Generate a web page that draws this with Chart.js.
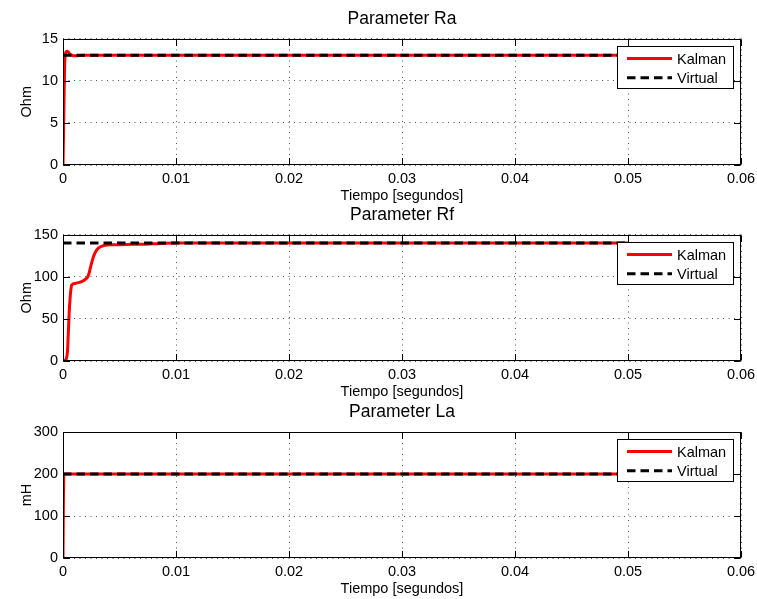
<!DOCTYPE html>
<html>
<head>
<meta charset="utf-8">
<script src="https://cdn.jsdelivr.net/npm/chart.js@4.4.0/dist/chart.umd.min.js"></script>
<style>
  html, body { margin: 0; padding: 0; background: #fff; }
  body { width: 757px; height: 599px; position: relative; overflow: hidden; }
  canvas { position: absolute; left: 0; }
</style>
</head>
<body>
<canvas id="chartRa" width="757" height="210" style="top:0px"></canvas>
<canvas id="chartRf" width="757" height="210" style="top:196px"></canvas>
<canvas id="chartLa" width="757" height="210" style="top:389px"></canvas>
<script>
// --- data ---
const seriesLabels = ['Kalman', 'Virtual'];

const raTime = [0, 0.00005, 0.0001, 0.00015, 0.0002, 0.0003, 0.0004, 0.0005, 0.0006, 0.0008, 0.001, 0.002, 0.05];
const raKalman = [0, 4, 8.5, 12, 13.1, 13.45, 13.5, 13.35, 13.15, 13.0, 12.95, 13.0, 13.0];
const raVirtualTime = [0, 0.05];
const raVirtual = [13, 13];

const rfTime = [0, 0.0002, 0.0003, 0.0004, 0.00047, 0.00055, 0.00062, 0.0007, 0.00077, 0.00106, 0.00165, 0.002, 0.00224, 0.00245, 0.0027, 0.003, 0.0034, 0.0042, 0.0062, 0.008, 0.01, 0.05];
const rfKalman = [0, 1, 3, 12, 33, 58, 73, 85, 90, 92, 94, 97, 101, 112, 124, 132, 136, 137.8, 138.3, 139, 140, 140];
const rfVirtualTime = [0, 0.05];
const rfVirtual = [140, 140];

const laTime = [0, 0.00003, 0.00006, 0.0001, 0.05];
const laKalman = [0, 120, 190, 200, 200];
const laVirtualTime = [0, 0.05];
const laVirtual = [200, 200];

const xTicksMax = 0.06;
const xStep = 0.01;

const FONT = 'Liberation Sans, Arial, Helvetica, sans-serif';
const TICK_LEN = 6.5;

Chart.defaults.font.family = FONT;
Chart.defaults.color = '#000';

function pts(xs, ys) {
    return xs.map((x, i) => ({ x: x, y: ys[i] }));
}

// box round the plot area plus inward tick marks on all four sides
const frameTicks = {
    id: 'frameTicks',
    afterDatasetsDraw(chart) {
        const { ctx, chartArea: a, scales: { x, y } } = chart;
        const L = Math.round(a.left) + 0.5, R = Math.round(a.right) - 0.5;
        const T = Math.round(a.top) + 0.5, B = Math.round(a.bottom) - 0.5;
        ctx.save();
        ctx.strokeStyle = '#000';
        ctx.lineWidth = 1;
        ctx.setLineDash([]);
        ctx.beginPath();
        x.ticks.forEach(t => {
            const px = Math.round(x.getPixelForValue(t.value)) + 0.5;
            ctx.moveTo(px, B); ctx.lineTo(px, B - TICK_LEN);
            ctx.moveTo(px, T); ctx.lineTo(px, T + TICK_LEN);
        });
        y.ticks.forEach(t => {
            const py = Math.round(y.getPixelForValue(t.value)) + 0.5;
            ctx.moveTo(L, py); ctx.lineTo(L + TICK_LEN, py);
            ctx.moveTo(R, py); ctx.lineTo(R - TICK_LEN, py);
        });
        ctx.stroke();
        ctx.strokeRect(L, T, R - L, B - T);
        ctx.restore();
    }
};

// matlab style legend box in the upper right corner
const boxLegend = {
    id: 'boxLegend',
    afterDraw(chart) {
        const { ctx, chartArea: a } = chart;
        const w = 116, h = 42;
        const left = Math.round(a.right - 8 - w), top = Math.round(a.top + 7);
        ctx.save();
        ctx.fillStyle = '#fff';
        ctx.fillRect(left, top, w, h);
        ctx.strokeStyle = '#000';
        ctx.lineWidth = 1;
        ctx.setLineDash([]);
        ctx.strokeRect(left + 0.5, top + 0.5, w, h);
        ctx.font = '14.5px ' + FONT;
        ctx.textBaseline = 'middle';
        ctx.textAlign = 'left';
        chart.data.datasets.forEach((ds, i) => {
            const ly = top + 12.5 + i * 19.3;
            ctx.strokeStyle = ds.borderColor;
            ctx.lineWidth = ds.borderWidth;
            ctx.setLineDash(ds.borderDash || []);
            ctx.beginPath();
            ctx.moveTo(left + 10, ly);
            ctx.lineTo(left + 55, ly);
            ctx.stroke();
            ctx.fillStyle = '#000';
            ctx.fillText(ds.label, left + 60, ly + 1);
        });
        ctx.restore();
    }
};

function makeChart(id, title, yLabel, yMax, yStep, kx, ky, vx, vy, padTop, padBottom) {
    return new Chart(document.getElementById(id).getContext('2d'), {
        type: 'line',
        data: {
            datasets: [{
                label: seriesLabels[0],
                data: pts(kx, ky),
                borderColor: '#ff0000',
                borderWidth: 3,
                pointRadius: 0,
                cubicInterpolationMode: 'monotone',
                order: 1
            }, {
                label: seriesLabels[1],
                data: pts(vx, vy),
                borderColor: '#000000',
                borderWidth: 3,
                borderDash: [8.5, 5],
                pointRadius: 0,
                order: 0
            }]
        },
        options: {
            responsive: false,
            animation: false,
            devicePixelRatio: 1,
            layout: { padding: { left: 0, right: 16, top: padTop, bottom: padBottom } },
            plugins: {
                legend: { display: false },
                tooltip: { enabled: false },
                title: {
                    display: true,
                    text: title,
                    fullSize: false,
                    color: '#000',
                    font: { size: 17.5, weight: 'normal', family: FONT },
                    padding: { top: 8.5, bottom: 9 }
                }
            },
            scales: {
                x: {
                    type: 'linear',
                    min: 0,
                    max: xTicksMax,
                    ticks: {
                        stepSize: xStep,
                        padding: 5,
                        maxRotation: 0,
                        font: { size: 14.5 },
                        callback: v => String(+v.toFixed(2))
                    },
                    grid: { color: '#555', lineWidth: 1, drawTicks: false },
                    border: { display: false, dash: [1, 4.5] },
                    title: {
                        display: true,
                        text: 'Tiempo [segundos]',
                        font: { size: 14.5 },
                        padding: { top: 0, bottom: 0 }
                    },
                    afterFit: s => { s.height = 40; s.paddingLeft = 0; s.paddingRight = 0; }
                },
                y: {
                    min: 0,
                    max: yMax,
                    ticks: { stepSize: yStep, padding: 5, font: { size: 14.5 } },
                    grid: { color: '#555', lineWidth: 1, drawTicks: false },
                    border: { display: false, dash: [1, 4.5] },
                    title: {
                        display: true,
                        text: yLabel,
                        font: { size: 14.5 },
                        padding: { top: 18, bottom: 0 }
                    },
                    afterFit: s => { s.width = 63; s.paddingTop = 0; s.paddingBottom = 0; }
                }
            }
        },
        plugins: [frameTicks, boxLegend]
    });
}

makeChart('chartRa', 'Parameter Ra', 'Ohm', 15, 5, raTime, raKalman, raVirtualTime, raVirtual, 0, 5);
makeChart('chartRf', 'Parameter Rf', 'Ohm', 150, 50, rfTime, rfKalman, rfVirtualTime, rfVirtual, 0, 5);
makeChart('chartLa', 'Parameter La', 'mH', 300, 100, laTime, laKalman, laVirtualTime, laVirtual, 4.5, 1);
</script>
</body>
</html>
